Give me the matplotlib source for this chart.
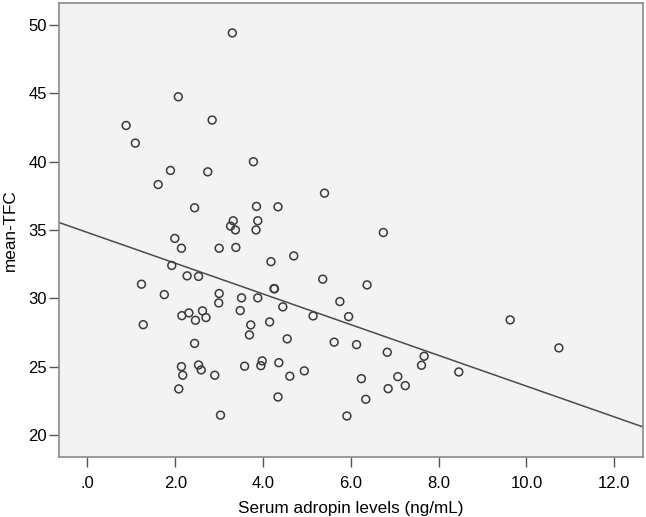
import numpy as np
import matplotlib
matplotlib.use("Agg")
import matplotlib.pyplot as plt
from matplotlib.ticker import FuncFormatter

# ── Data ───────────────────────────────────────────────────
adropin = [
    0.88, 1.09, 2.07, 2.84, 1.89, 2.74, 1.61, 2.44, 1.99, 2.14,
    3.00, 3.30, 3.78, 5.40, 3.85, 4.34, 3.32, 3.26, 3.37, 3.88,
    3.84, 6.74, 3.38, 4.70, 4.18, 5.36, 6.37, 4.25, 4.26, 2.53,
    3.00, 2.99, 3.51, 3.88, 5.75, 2.62, 2.70, 3.48, 4.45, 5.14,
    5.95, 3.72, 4.15, 3.69, 4.55, 5.62, 6.13, 6.83, 7.67, 7.61,
    2.53, 2.59, 2.90, 3.58, 3.98, 3.95, 4.36, 4.94, 4.61, 6.24,
    7.07, 7.24, 6.85, 6.34, 4.34, 3.03, 5.91, 9.63, 10.74, 8.46,
    1.92, 2.27, 1.23, 1.75, 2.15, 2.31, 2.46, 1.27, 2.44, 2.14,
    2.17, 2.08,
]
mean_tfc = [
    42.64, 41.35, 44.74, 43.04, 39.35, 39.25, 38.32, 36.62, 34.38, 33.66,
    33.66, 49.41, 39.99, 37.69, 36.72, 36.69, 35.67, 35.28, 35.00, 35.67,
    35.00, 34.81, 33.72, 33.10, 32.68, 31.40, 30.98, 30.71, 30.69, 31.60,
    30.35, 29.66, 30.03, 30.03, 29.76, 29.08, 28.59, 29.10, 29.37, 28.71,
    28.66, 28.05, 28.27, 27.32, 27.03, 26.79, 26.61, 26.05, 25.76, 25.10,
    25.12, 24.76, 24.37, 25.03, 25.42, 25.07, 25.29, 24.69, 24.30, 24.12,
    24.27, 23.61, 23.39, 22.61, 22.78, 21.45, 21.39, 28.42, 26.37, 24.61,
    32.40, 31.64, 31.03, 30.27, 28.73, 28.93, 28.39, 28.07, 26.70, 25.00,
    24.37, 23.37,
]
x_ticks = [0, 2, 4, 6, 8, 10, 12]
y_ticks = [20, 25, 30, 35, 40, 45, 50]

plt.rcParams["font.family"] = ["Liberation Sans", "DejaVu Sans"]

x = np.array(adropin)
y = np.array(mean_tfc)

fig = plt.figure(figsize=(6.46, 5.17), dpi=100)
ax = fig.add_axes([0.0906, 0.1166, 0.9043, 0.8776])
ax.set_facecolor("#f3f3f3")

ax.scatter(x, y, s=32, facecolors="none", edgecolors="#3a3a3a",
           linewidths=1.1, zorder=3)

# linear fit line across the full axis range
xlim = (-0.66, 12.65)
slope, intercept = np.polyfit(x, y, 1)
xs = np.array(xlim)
ax.plot(xs, intercept + slope * xs, color="#4a4a4a", linewidth=1.1, zorder=2)

ax.set_xlim(*xlim)
ax.set_ylim(18.41, 51.6)
ax.set_xticks(x_ticks)
ax.set_yticks(y_ticks)


def spss_fmt(v, pos):
    s = f"{v:.1f}"
    return s[1:] if s.startswith("0") else s


ax.xaxis.set_major_formatter(FuncFormatter(spss_fmt))
ax.tick_params(axis="both", direction="out", length=7, width=1,
               color="#555555", labelsize=12, labelcolor="#000000", pad=1.5)
ax.tick_params(axis="x", pad=7)

for sp in ax.spines.values():
    sp.set_color("#8a8a8a")
    sp.set_linewidth(1.2)

ax.set_xlabel("Serum adropin levels (ng/mL)", fontsize=12.3, color="#000000",
              labelpad=7)
ax.set_ylabel("mean-TFC", fontsize=12.3, color="#000000", labelpad=7)

fig.savefig("out.png", dpi=100)
